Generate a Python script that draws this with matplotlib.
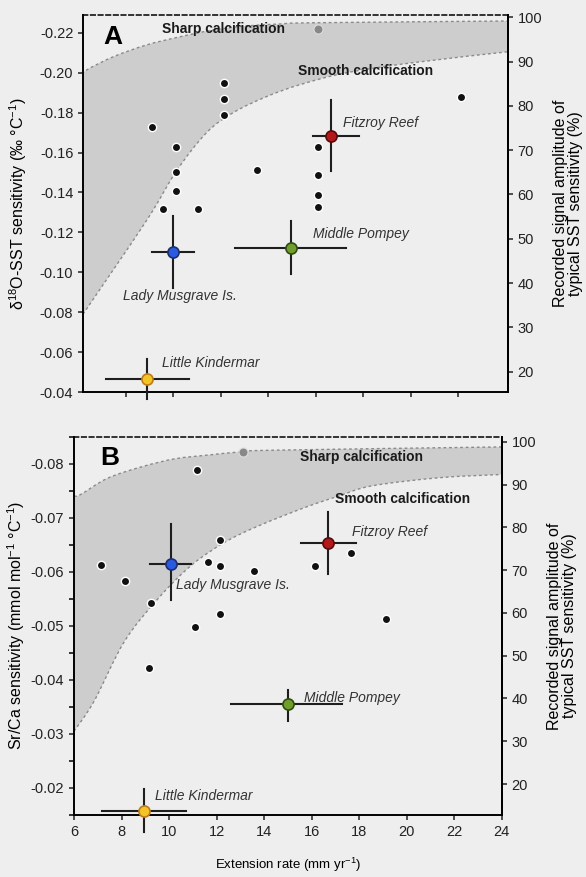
import numpy as np
import matplotlib
matplotlib.use("Agg")
import matplotlib.pyplot as plt
from matplotlib.path import Path
from matplotlib.patches import PathPatch

plt.rcParams['font.family'] = ['Liberation Sans', 'DejaVu Sans']
plt.rcParams['mathtext.fontset'] = 'custom'
plt.rcParams['mathtext.rm'] = 'Liberation Sans'
plt.rcParams['mathtext.it'] = 'Liberation Sans:italic'
plt.rcParams['mathtext.default'] = 'regular'

# --- data ---
sites = ['Lady Musgrave Is.', 'Middle Pompey', 'Fitzroy Reef', 'Little Kindermar']
site_colors = ['#2a5ae0', '#6f9e2c', '#b3191b', '#f2c428']
site_edges = ['#1b2f70', '#2f4d12', '#5a0a0a', '#c07a18']

# panel A (d18O)
a_site_x = [9.98, 14.96, 16.64, 8.91]
a_site_xlo = [9.12, 12.6, 15.9, 7.17]
a_site_xhi = [10.89, 17.26, 17.83, 10.66]
a_site_y = [-0.1102, -0.1122, -0.1683, -0.0464]
a_site_ylo = [-0.128, -0.1255, -0.1863, -0.0567]
a_site_yhi = [-0.0922, -0.0989, -0.1505, -0.0365]
a_dot_x = [9.09, 10.12, 10.12, 10.12, 9.56, 11.06, 12.15, 12.15, 12.15, 13.51,
           22.14, 16.08, 16.08, 16.08, 16.08]
a_dot_y = [-0.173, -0.1627, -0.150, -0.1407, -0.1318, -0.1318, -0.195, -0.187,
           -0.179, -0.151, -0.1877, -0.163, -0.1489, -0.1389, -0.1327]
a_grey_x, a_grey_y = 16.1, -0.2217
a_up_x = [6.2, 6.36, 7.48, 8.88, 10.29, 11.69, 13.09, 14.49, 15.88, 24.1]
a_up_y = [-0.199, -0.2014, -0.208, -0.2139, -0.218, -0.2214, -0.2234, -0.2244, -0.225, -0.2259]
a_lo_x = [6.2, 8.88, 10.15, 11.41, 12.53, 13.93, 15.34, 17.31, 20.09, 24.1]
a_lo_y = [-0.079, -0.126, -0.151, -0.170, -0.180, -0.188, -0.194, -0.200, -0.205, -0.2105]

# panel B (Sr/Ca)
b_site_x = [10.07, 15.01, 16.71, 8.94]
b_site_xlo = [9.18, 12.61, 15.55, 7.17]
b_site_xhi = [10.92, 17.27, 17.86, 10.7]
b_site_y = [-0.0615, -0.0355, -0.0653, -0.0158]
b_site_ylo = [-0.0688, -0.0381, -0.071, -0.0199]
b_site_yhi = [-0.0548, -0.0324, -0.0596, -0.0119]
b_dot_x = [7.14, 8.13, 9.22, 11.16, 12.14, 11.65, 12.14, 13.56, 12.14, 11.1, 9.14,
           16.14, 17.67, 19.15]
b_dot_y = [-0.0612, -0.0583, -0.0543, -0.0789, -0.0659, -0.0619, -0.061, -0.0602,
           -0.0522, -0.0497, -0.0422, -0.061, -0.0635, -0.0512]
b_grey_x, b_grey_y = 13.13, -0.0821
b_up_x = [6.0, 6.28, 7.41, 8.83, 10.24, 11.65, 13.06, 14.47, 24.0]
b_up_y = [-0.0740, -0.0743, -0.0773, -0.0794, -0.0809, -0.0816, -0.0822, -0.0825, -0.0831]
b_lo_x = [6.0, 6.85, 8.12, 9.53, 10.94, 12.36, 13.77, 15.72, 17.13, 18.54, 21.37, 24.0]
b_lo_y = [-0.0305, -0.0361, -0.0471, -0.055, -0.0612, -0.0655, -0.0685, -0.0719,
          -0.074, -0.0759, -0.0774, -0.078]


def smooth_segments(xs, ys):
    # Catmull-Rom through the read points, drawn as cubic Bezier segments
    p = np.column_stack([xs, ys])
    verts, codes = [], []
    n = len(p)
    for i in range(n - 1):
        p0 = p[max(i - 1, 0)]
        p1, p2 = p[i], p[i + 1]
        p3 = p[min(i + 2, n - 1)]
        verts += [p1 + (p2 - p0) / 6, p2 - (p3 - p1) / 6, p2]
        codes += [Path.CURVE4] * 3
    return verts, codes


def smooth_line(xs, ys):
    v, c = smooth_segments(xs, ys)
    return Path([np.array([xs[0], ys[0]])] + v, [Path.MOVETO] + c)


# --- figure ---
bg = '#eeeeee'
band = '#cdcdcd'
fig = plt.figure(figsize=(5.86, 8.77), dpi=100, facecolor=bg)
axA = fig.add_axes([0.1416, 0.5530, 0.7253, 0.4299])
axB = fig.add_axes([0.1263, 0.0707, 0.7298, 0.4314])


def draw_panel(ax, up_x, up_y, lo_x, lo_y, dx, dy, gx, gy,
               sx, sxlo, sxhi, sy, sylo, syhi):
    ax.set_facecolor(bg)
    vu, cu = smooth_segments(up_x, up_y)
    vl, cl = smooth_segments(lo_x[::-1], lo_y[::-1])
    verts = [np.array([up_x[0], up_y[0]])] + vu + [np.array([lo_x[-1], lo_y[-1]])] + vl
    verts.append(np.array([up_x[0], up_y[0]]))
    codes = [Path.MOVETO] + cu + [Path.LINETO] + cl + [Path.CLOSEPOLY]
    ax.add_patch(PathPatch(Path(verts, codes), facecolor=band, lw=0, zorder=1))
    for xs, ys in [(up_x, up_y), (lo_x, lo_y)]:
        ax.add_patch(PathPatch(smooth_line(xs, ys), facecolor='none', edgecolor='#8a8a8a',
                               lw=1, ls=(0, (2, 2)), zorder=2))
    ax.plot(dx, dy, 'o', color='#111111', mec='white', mew=1.0, ms=6, zorder=4)
    ax.plot(gx, gy, 'o', color='#888888', mec='#dddddd', mew=0.8, ms=6.5, zorder=4)
    for i in range(len(sx)):
        ax.plot([sxlo[i], sxhi[i]], [sy[i], sy[i]], color='#1e1e1e', lw=1.5,
                zorder=5, clip_on=False)
        ax.plot([sx[i], sx[i]], [sylo[i], syhi[i]], color='#1e1e1e', lw=1.5,
                zorder=5, clip_on=False)
        ax.plot(sx[i], sy[i], 'o', color=site_colors[i], mec=site_edges[i], mew=1.2,
                ms=8, zorder=6, clip_on=False)
    for s in ['left', 'bottom', 'right']:
        ax.spines[s].set_linewidth(1.4)
    ax.spines['top'].set_linestyle((0, (3, 2)))
    ax.spines['top'].set_linewidth(1.1)
    ax.tick_params(direction='out', length=3.5, width=1.1, labelsize=10.5,
                   colors='#222222')


draw_panel(axA, a_up_x, a_up_y, a_lo_x, a_lo_y, a_dot_x, a_dot_y, a_grey_x, a_grey_y,
           a_site_x, a_site_xlo, a_site_xhi, a_site_y, a_site_ylo, a_site_yhi)
draw_panel(axB, b_up_x, b_up_y, b_lo_x, b_lo_y, b_dot_x, b_dot_y, b_grey_x, b_grey_y,
           b_site_x, b_site_xlo, b_site_xhi, b_site_y, b_site_ylo, b_site_yhi)

# axes A
axA.set_xlim(6.2, 24.1)
axA.set_ylim(-0.04, -0.2289)
axA.set_xticks(np.arange(8, 23, 2))
axA.set_xticklabels([])
a_yt = np.arange(-0.22, -0.039, 0.02)
axA.set_yticks(a_yt)
axA.set_yticklabels([f'{v:.2f}' for v in a_yt])
axA.set_ylabel(r'$\delta^{18}$O-SST sensitivity (‰ °C$^{-1}$)', fontsize=11.5, labelpad=8)

# axes B
axB.set_xlim(6, 24)
axB.set_ylim(-0.015, -0.0844)
axB.set_xticks(np.arange(6, 25, 2))
b_yt = np.arange(-0.08, -0.019, 0.01)
axB.set_yticks(b_yt)
axB.set_yticklabels([f'{v:.2f}' for v in b_yt])
axB.set_yticks(np.arange(-0.085, -0.015, 0.005), minor=True)
axB.tick_params(which='minor', direction='out', length=3.5, width=1.1)
axB.set_ylabel(r'Sr/Ca sensitivity (mmol mol$^{-1}$ °C$^{-1}$)', fontsize=11.5, labelpad=3)
axB.set_xlabel(r'Extension rate (mm yr$^{-1}$)', fontsize=9.5, labelpad=12)

# right axes
for ax, lim in [(axA, (15.42, 100.5)), (axB, (12.76, 101.2))]:
    tw = ax.twinx()
    tw.set_ylim(*lim)
    tw.set_yticks(np.arange(20, 101, 10))
    tw.tick_params(direction='out', length=3.5, width=1.1, labelsize=10.5, colors='#222222')
    for s in ['left', 'top', 'bottom']:
        tw.spines[s].set_visible(False)
    tw.spines['right'].set_linewidth(1.4)
    tw.set_ylabel('Recorded signal amplitude of\ntypical SST sensitivity (%)',
                  fontsize=11.5, labelpad=8, linespacing=1.0)

# text annotations
lab = dict(fontsize=10, style='italic', color='#333333', va='center', ha='left', zorder=7)
bold = dict(fontsize=10, weight='bold', color='#1a1a1a', va='center', ha='left', zorder=7)
axA.text(7.90, -0.088, sites[0], **lab)
axA.text(15.88, -0.1192, sites[1], **lab)
axA.text(17.16, -0.175, sites[2], **lab)
axA.text(9.54, -0.0543, sites[3], **lab)
axA.text(9.52, -0.2217, 'Sharp calcification', **bold)
axA.text(15.27, -0.201, 'Smooth calcification', **bold)
axA.text(7.06, -0.218, 'A', fontsize=19, weight='bold', va='center', ha='left')

axB.text(10.28, -0.0575, sites[0], **lab)
axB.text(15.69, -0.0367, sites[1], **lab)
axB.text(17.69, -0.0673, sites[2], **lab)
axB.text(9.39, -0.0185, sites[3], **lab)
axB.text(15.5, -0.0812, 'Sharp calcification', **bold)
axB.text(16.99, -0.0734, 'Smooth calcification', **bold)
axB.text(7.1, -0.081, 'B', fontsize=19, weight='bold', va='center', ha='left')

fig.savefig('out.png', dpi=100, facecolor=bg)
